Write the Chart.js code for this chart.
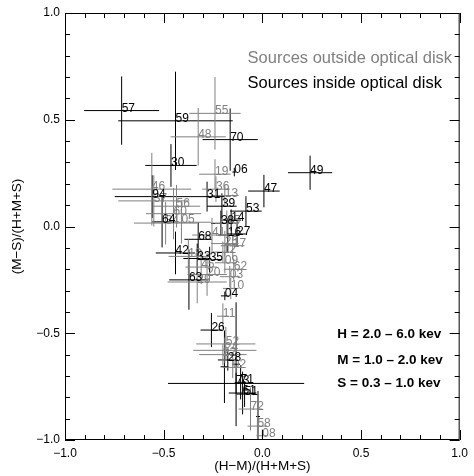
<!DOCTYPE html>
<html>
<head>
<meta charset="utf-8">
<script src="https://cdn.jsdelivr.net/npm/chart.js@4.4.0/dist/chart.umd.min.js"></script>
<style>
  html, body { margin: 0; padding: 0; background: #fff; }
  #wrap { width: 474px; height: 476px; }
</style>
</head>
<body>
<div id="wrap"><canvas id="hardness"></canvas></div>
<script>
    // Sources outside the optical disk (grey)
    const outLabels = ['55', '48', '19', '36', '13', '46', '37', '56', '60', '34', '05', '41', '15', '25', '17',
        '12', '18', '09', '45', '62', '03', '20', '29', '10', '11', '52', '24', '22', '02', '72', '58', '08'];
    const outX = [-0.24, -0.325, -0.24, -0.235, -0.19, -0.56, -0.55, -0.435, -0.45, -0.49, -0.41, -0.255, -0.18, -0.19, -0.15,
        -0.2, -0.375, -0.19, -0.31, -0.145, -0.165, -0.28, -0.33, -0.16, -0.2, -0.185, -0.19, -0.2, -0.15, -0.06, -0.025, 0.0];
    const outY = [0.53, 0.42, 0.245, 0.175, 0.145, 0.175, 0.12, 0.095, 0.06, 0.016, 0.02, -0.04, 0.015, -0.08, -0.09,
        -0.12, -0.14, -0.17, -0.19, -0.2, -0.235, -0.225, -0.26, -0.29, -0.42, -0.55, -0.58, -0.6, -0.66, -0.855, -0.935, -0.98];
    const outXErr = [0.13, 0.14, 0.08, 0.07, 0.07, 0.2, 0.18, 0.12, 0.14, 0.16, 0.15, 0.1, 0.06, 0.07, 0.06,
        0.05, 0.1, 0.05, 0.08, 0.05, 0.05, 0.1, 0.15, 0.04, 0.03, 0.15, 0.16, 0.12, 0.05, 0.06, 0.05, 0.03];
    const outYErr = [0.17, 0.135, 0.07, 0.06, 0.05, 0.17, 0.12, 0.1, 0.12, 0.1, 0.1, 0.08, 0.06, 0.06, 0.06,
        0.05, 0.08, 0.05, 0.08, 0.05, 0.05, 0.1, 0.1, 0.05, 0.06, 0.08, 0.06, 0.05, 0.05, 0.1, 0.06, 0.03];

    // Sources inside the optical disk (black)
    const inLabels = ['57', '59', '70', '30', '06', '49', '47', '53', '31', '39', '14', '38', '27', '16', '68',
        '42', '33', '35', '63', '94', '64', '04', '26', '', '28', '', '73', '71', '61', '51', ''];
    const inX = [-0.713, -0.44, -0.163, -0.463, -0.142, 0.242, 0.008, -0.083, -0.28, -0.205, -0.158, -0.21, -0.128, -0.175, -0.325,
        -0.44, -0.33, -0.267, -0.372, -0.558, -0.508, -0.19, -0.258, -0.133, -0.175, -0.192, -0.133, -0.11, -0.1, -0.09, -0.022];
    const inY = [0.543, 0.495, 0.407, 0.286, 0.255, 0.252, 0.166, 0.072, 0.14, 0.095, 0.03, 0.015, -0.035, -0.04, -0.06,
        -0.124, -0.15, -0.155, -0.25, 0.14, 0.022, -0.325, -0.485, -0.645, -0.625, -0.657, -0.735, -0.73, -0.78, -0.785, -0.89];
    const inXErr = [0.19, 0.29, 0.14, 0.13, 0.01, 0.112, 0.08, 0.08, 0.09, 0.075, 0.05, 0.05, 0.05, 0.05, 0.07,
        0.1, 0.07, 0.06, 0.1, 0.19, 0.05, 0.02, 0.055, 0.02, 0.05, 0.02, 0.345, 0.03, 0.07, 0.04, 0.01];
    const inYErr = [0.16, 0.23, 0.146, 0.1, 0.02, 0.08, 0.076, 0.07, 0.07, 0.06, 0.05, 0.06, 0.06, 0.08, 0.08,
        0.1, 0.07, 0.06, 0.14, 0.1, 0.12, 0.02, 0.08, 0.29, 0.05, 0.17, 0.05, 0.08, 0.1, 0.06, 0.12];

    const tickValues = [-1, -0.5, 0, 0.5, 1];
    const legendLines = ['Sources outside optical disk', 'Sources inside optical disk'];
    const bandLines = ['H = 2.0 \u2013 6.0 kev', 'M = 1.0 \u2013 2.0 kev', 'S = 0.3 \u2013 1.0 kev'];

    const FONT = '"Liberation Sans", Arial, Helvetica, sans-serif';
    const GREY = '#808080';

    // each source becomes two segments (x error and y error), separated by gaps
    function crossPoints(xs, ys, ex, ey) {
        const pts = [];
        xs.forEach((x, i) => {
            pts.push({ x: x - ex[i], y: ys[i] }, { x: x + ex[i], y: ys[i] }, { x: null, y: null });
            pts.push({ x: x, y: ys[i] - ey[i] }, { x: x, y: ys[i] + ey[i] }, { x: null, y: null });
        });
        return pts;
    }

    const fmt = v => (v < 0 ? '\u2212' : '') + Math.abs(v).toFixed(1);

    const annotate = {
        id: 'annotate',
        afterDatasetsDraw(chart) {
            const { ctx, chartArea: a, scales: { x, y } } = chart;
            ctx.save();

            // source numbers, written at each point
            ctx.font = '12px ' + FONT;
            ctx.textAlign = 'left';
            ctx.textBaseline = 'alphabetic';
            ctx.fillStyle = GREY;
            outLabels.forEach((t, i) => ctx.fillText(t, x.getPixelForValue(outX[i]), y.getPixelForValue(outY[i]) + 1));
            ctx.fillStyle = '#000';
            inLabels.forEach((t, i) => ctx.fillText(t, x.getPixelForValue(inX[i]), y.getPixelForValue(inY[i]) + 1));

            // frame with inward ticks on all sides
            ctx.strokeStyle = '#000';
            ctx.lineWidth = 1;
            ctx.strokeRect(a.left + 0.5, a.top + 0.5, a.right - a.left - 1, a.bottom - a.top - 1);
            ctx.beginPath();
            for (let i = -10; i <= 10; i++) {
                const len = i % 5 === 0 ? 10 : 5;
                const px = Math.round(x.getPixelForValue(i / 10)) + 0.5;
                const py = Math.round(y.getPixelForValue(i / 10)) + 0.5;
                ctx.moveTo(px, a.bottom); ctx.lineTo(px, a.bottom - len);
                ctx.moveTo(px, a.top); ctx.lineTo(px, a.top + len);
                ctx.moveTo(a.left, py); ctx.lineTo(a.left + len, py);
                ctx.moveTo(a.right, py); ctx.lineTo(a.right - len, py);
            }
            ctx.stroke();

            // legend text
            ctx.font = '16.5px ' + FONT;
            ctx.fillStyle = GREY;
            ctx.fillText(legendLines[0], x.getPixelForValue(-0.075), y.getPixelForValue(0.765));
            ctx.fillStyle = '#000';
            ctx.fillText(legendLines[1], x.getPixelForValue(-0.075), y.getPixelForValue(0.648));

            // energy bands
            ctx.font = 'bold 13.5px ' + FONT;
            [-0.521, -0.643, -0.751].forEach((v, i) =>
                ctx.fillText(bandLines[i], x.getPixelForValue(0.38), y.getPixelForValue(v)));
            ctx.restore();
        }
    };

    new Chart(document.getElementById('hardness'), {
        type: 'scatter',
        data: {
            datasets: [{
                label: 'Sources outside optical disk',
                data: crossPoints(outX, outY, outXErr, outYErr),
                showLine: true,
                borderColor: GREY,
                borderWidth: 1,
                pointRadius: 0,
                spanGaps: false
            }, {
                label: 'Sources inside optical disk',
                data: crossPoints(inX, inY, inXErr, inYErr),
                showLine: true,
                borderColor: '#000',
                borderWidth: 1,
                pointRadius: 0,
                spanGaps: false
            }]
        },
        options: {
            responsive: true,
            maintainAspectRatio: false,
            animation: false,
            devicePixelRatio: 1,
            layout: { padding: { top: 13, right: 9, left: 0, bottom: 0 } },
            plugins: { legend: { display: false }, tooltip: { enabled: false } },
            scales: {
                x: {
                    type: 'linear', min: -1, max: 1,
                    afterBuildTicks: s => { s.ticks = tickValues.map(v => ({ value: v })); },
                    afterFit: s => { s.height = 36; },
                    grid: { display: false, drawTicks: false },
                    border: { display: false },
                    ticks: { callback: fmt, padding: 6, maxRotation: 0, color: '#000', font: { family: FONT, size: 12 } },
                    title: { display: true, text: '(H\u2212M)/(H+M+S)', color: '#000', padding: { top: 0, bottom: 2 }, font: { family: FONT, size: 13.5 } }
                },
                y: {
                    type: 'linear', min: -1, max: 1,
                    afterBuildTicks: s => { s.ticks = tickValues.map(v => ({ value: v })); },
                    afterFit: s => { s.width = 65; },
                    grid: { display: false, drawTicks: false },
                    border: { display: false },
                    ticks: { callback: fmt, padding: 5, color: '#000', font: { family: FONT, size: 12 } },
                    title: { display: true, text: '(M\u2212S)/(H+M+S)', color: '#000', padding: { top: 9, bottom: 0 }, font: { family: FONT, size: 13.5 } }
                }
            }
        },
        plugins: [annotate]
    });
</script>
</body>
</html>
